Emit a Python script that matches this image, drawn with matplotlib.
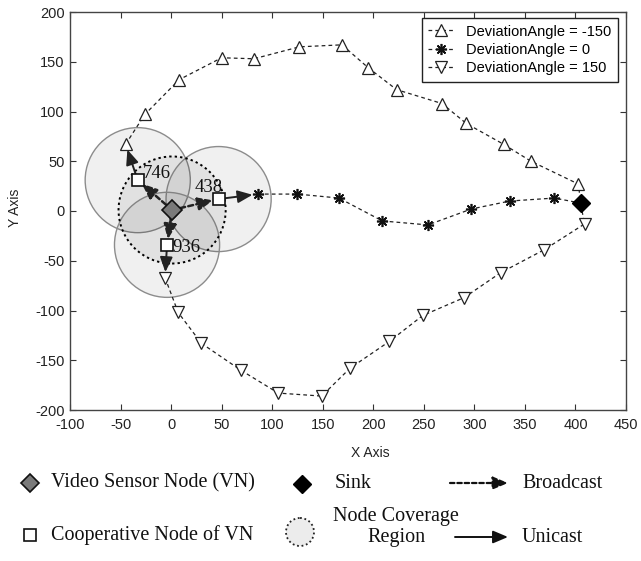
import matplotlib
matplotlib.use('Agg')
import matplotlib.pyplot as plt
from matplotlib.patches import Ellipse, Circle

# ---------------- data ----------------
neg_x = [-45, -26, 8, 50, 82, 127, 169, 195, 223, 268, 292, 329, 356, 403]
neg_y = [67, 97, 132, 154, 153, 165, 167, 144, 122, 108, 88, 67, 50, 27]
zero_x = [86, 125, 166, 209, 254, 297, 335, 379]
zero_y = [17, 17, 13, -10, -14, 2, 10, 13]
pos_x = [-6, 7, 30, 69, 106, 149, 177, 216, 249, 290, 326, 369, 409]
pos_y = [-67, -102, -133, -160, -183, -186, -158, -131, -105, -87, -62, -39, -13]
series_labels = ['DeviationAngle = -150', 'DeviationAngle = 0', 'DeviationAngle = 150']
sink_xy = (405, 8)
vn_xy = (1, 1)
coop_labels = ['746', '438', '936']
coop_x = [-33, 47, -4]
coop_y = [31, 12, -34]
coverage_r = 52
vn_r = 53
xticks = [-100, -50, 0, 50, 100, 150, 200, 250, 300, 350, 400, 450]
yticks = [-200, -150, -100, -50, 0, 50, 100, 150, 200]

W, H = 641, 561
fig = plt.figure(figsize=(W / 100, H / 100), dpi=100)
ax = fig.add_axes([70 / W, 1 - 410 / H, 556 / W, 398 / H])
ax.set_xlim(-100, 450)
ax.set_ylim(-200, 200)
ax.set_xticks(xticks)
ax.set_yticks(yticks)
tfont = dict(family='Liberation Sans', size=10.5)
ax.set_xticklabels([str(v) for v in xticks], **tfont)
ax.set_yticklabels([str(v) for v in yticks], **tfont)
ax.tick_params(direction='in', top=True, right=True, length=4, width=0.8,
               color='#333333', labelcolor='#222222')
ax.tick_params(axis='x', pad=6)
ax.tick_params(axis='y', pad=4)
for s in ax.spines.values():
    s.set_color('#444444')
    s.set_linewidth(1.0)

# coverage regions
for cx, cy in zip(coop_x, coop_y):
    ax.add_patch(Ellipse((cx, cy), 2 * coverage_r, 2 * coverage_r * 1.015,
                         facecolor=(0, 0, 0, 0.06), edgecolor='#8c8c8c', lw=1.0, zorder=1))
ax.add_patch(Ellipse(vn_xy, 2 * vn_r, 2 * vn_r * 1.015, facecolor=(0, 0, 0, 0.06),
                     edgecolor='black', lw=1.4, linestyle=(0, (1.2, 1.6)), zorder=1.5))

# series
ls = (0, (3, 2.5))
mk = dict(markersize=8, markerfacecolor='white', markeredgecolor='#222222', markeredgewidth=0.9)
sets = [(neg_x, neg_y, '^', mk), (zero_x, zero_y, (8, 2, 0),
        dict(markersize=8, markeredgecolor='#111111', markeredgewidth=1.2)),
        (pos_x, pos_y, 'v', mk)]
handles = []
for (xs, ys, m, kw), lab in zip(sets, series_labels):
    lx = list(xs) + [sink_xy[0]]
    ly = list(ys) + [sink_xy[1]]
    ln, = ax.plot(lx, ly, color='#222222', lw=0.9, linestyle=ls, marker=m,
                  markevery=list(range(len(xs))), label=lab, zorder=3, **kw)
    handles.append(ln)

# broadcast arrows VN -> cooperative nodes
for cx, cy in zip(coop_x, coop_y):
    ax.annotate('', xy=(cx, cy), xytext=vn_xy,
                arrowprops=dict(arrowstyle='-|>,head_length=0.9,head_width=0.38',
                                mutation_scale=10, lw=1.8, linestyle=(0, (2, 1.3)),
                                color='#222222', shrinkA=6, shrinkB=4), zorder=4)

# unicast arrows cooperative node -> first hop
firsts = [(neg_x[0], neg_y[0]), (zero_x[0], zero_y[0]), (pos_x[0], pos_y[0])]
for cx, cy, (fx, fy) in zip(coop_x, coop_y, firsts):
    ax.annotate('', xy=(fx, fy), xytext=(cx, cy),
                arrowprops=dict(arrowstyle='-|>,head_length=0.9,head_width=0.38',
                                mutation_scale=10, lw=1.4, color='#222222',
                                shrinkA=4, shrinkB=4), zorder=4)

# nodes
ax.plot([vn_xy[0]], [vn_xy[1]], marker='D', markersize=10, markerfacecolor='#7a7a7a',
        markeredgecolor='#111111', markeredgewidth=1.2, linestyle='none', zorder=6)
ax.plot(coop_x, coop_y, marker='s', markersize=9, markerfacecolor='white',
        markeredgecolor='#111111', markeredgewidth=1.2, linestyle='none', zorder=6)
ax.plot([sink_xy[0]], [sink_xy[1]], marker='D', markersize=9, markerfacecolor='black',
        markeredgecolor='black', linestyle='none', zorder=6)
lab_off = [(5, 7), (-24, 12), (5, -3)]
for lab, cx, cy, (dx, dy) in zip(coop_labels, coop_x, coop_y, lab_off):
    ax.text(cx + dx, cy + dy, lab, family='Liberation Serif', size=13.5,
            va='center', ha='left', color='#111111', zorder=7)

leg = ax.legend(handles=handles, loc='upper right', bbox_to_anchor=(0.9856, 0.985),
                borderaxespad=0, fancybox=False, edgecolor='#222222', framealpha=1,
                prop=dict(family='Liberation Sans', size=10.5), handlelength=1.7,
                handletextpad=0.9, labelspacing=0.3, borderpad=0.45)
leg.get_frame().set_linewidth(1.0)

fig.text(370 / W, 1 - 453 / H, 'X Axis', family='Liberation Sans', size=10,
         ha='center', va='center', color='#222222')
fig.text(15 / W, 1 - 208 / H, 'Y Axis', family='Liberation Sans', size=10,
         ha='center', va='center', rotation=90, color='#222222')

# ---------------- bottom key (pixel coordinates) ----------------
k = fig.add_axes([0, 0, 1, 1])
k.set_xlim(0, W)
k.set_ylim(H, 0)
k.axis('off')
k.patch.set_alpha(0)
kf = dict(family='Liberation Serif', size=14.5, va='center', ha='left', color='#111111')
r1, r2 = 483, 535
k.plot([30], [r1], marker='D', markersize=9, markerfacecolor='#7a7a7a',
       markeredgecolor='#111111', markeredgewidth=1.2)
k.text(51, r1, 'Video Sensor Node (VN)', **kf)
k.plot([302], [r1 + 1], marker='D', markersize=9, markerfacecolor='black', markeredgecolor='black')
k.text(335, r1, 'Sink', **kf)
k.annotate('', xy=(508, r1), xytext=(450, r1),
           arrowprops=dict(arrowstyle='-|>,head_length=0.9,head_width=0.38', mutation_scale=10,
                           lw=1.6, linestyle=(0, (2, 1.3)), color='#111111', shrinkA=0, shrinkB=0))
k.text(522, r1, 'Broadcast', **kf)

k.plot([30], [r2], marker='s', markersize=8, markerfacecolor='white',
       markeredgecolor='#111111', markeredgewidth=1.2)
k.text(51, r2, 'Cooperative Node of VN', **kf)
k.add_patch(Circle((300, r2 - 3), 14, facecolor='#ececec', edgecolor='#222222',
                   lw=1.3, linestyle=(0, (1, 1.5))))
k.text(396, r2 - 8, 'Node Coverage\nRegion', family='Liberation Serif', size=14.5,
       va='center', ha='center', multialignment='center', color='#111111', linespacing=1.1)
k.annotate('', xy=(508, r2 + 2), xytext=(455, r2 + 2),
           arrowprops=dict(arrowstyle='-|>,head_length=0.9,head_width=0.38', mutation_scale=10,
                           lw=1.4, color='#111111', shrinkA=0, shrinkB=0))
k.text(522, r2 + 2, 'Unicast', **kf)

fig.savefig('out.png', dpi=100)
